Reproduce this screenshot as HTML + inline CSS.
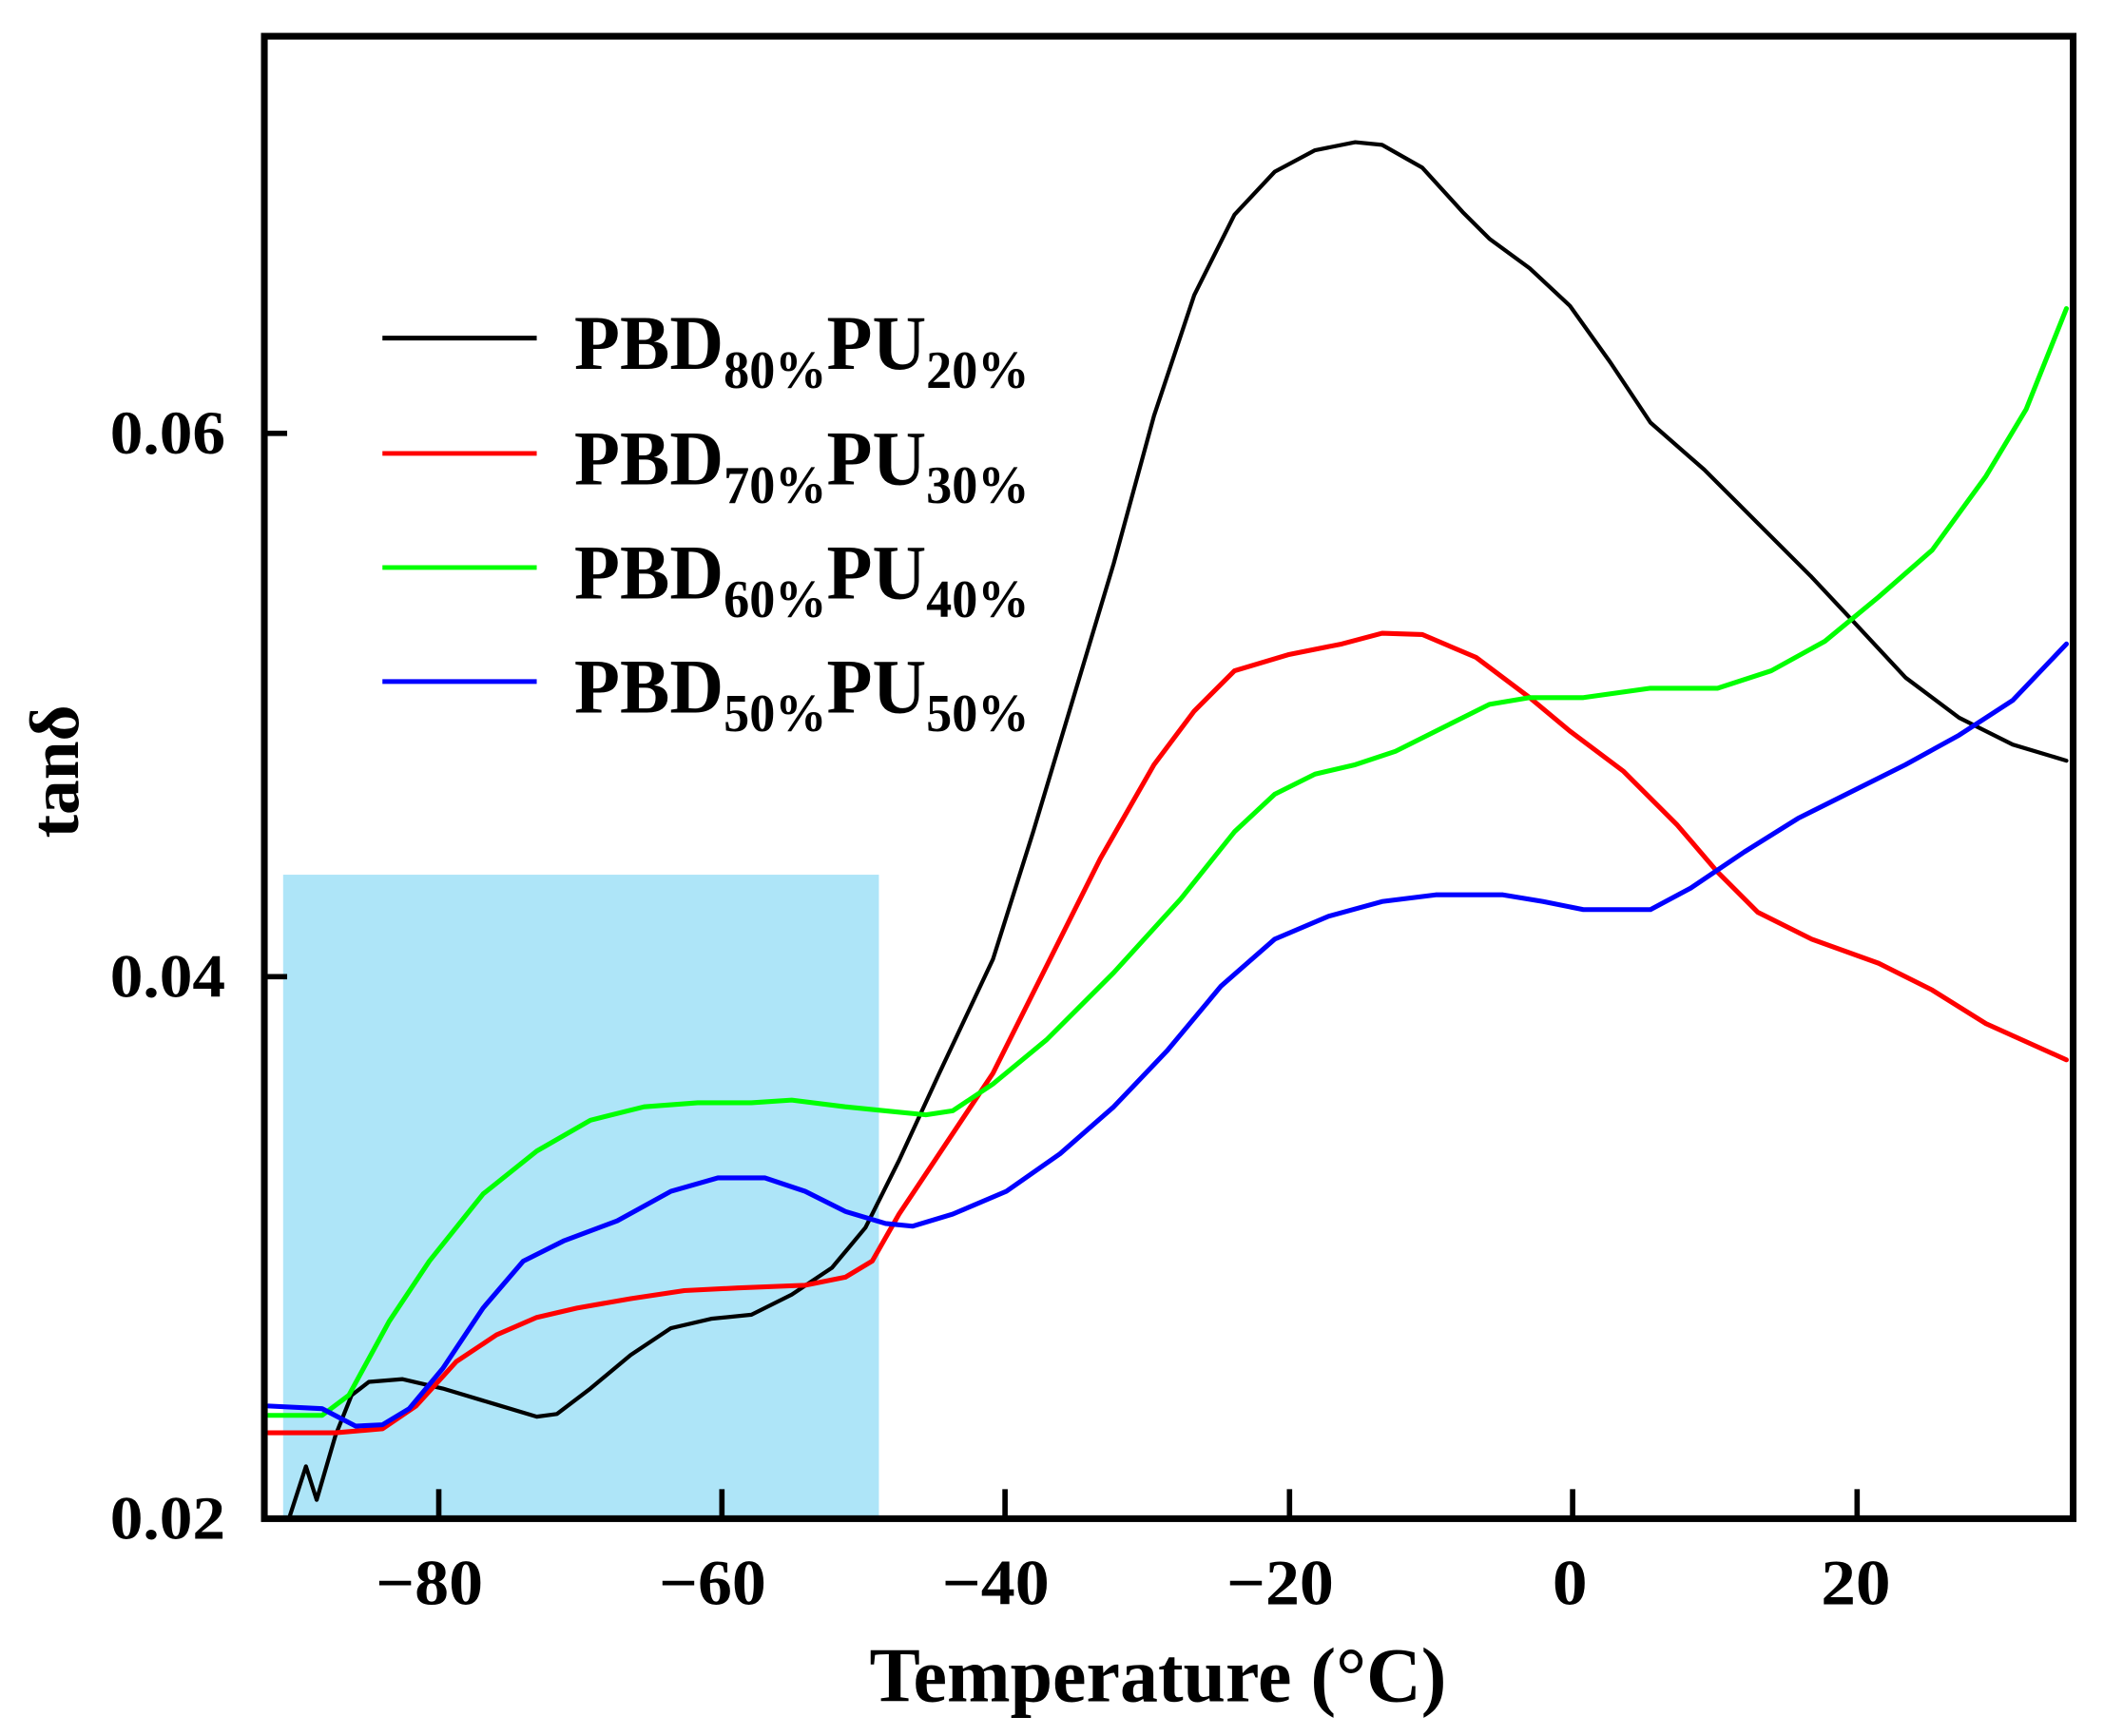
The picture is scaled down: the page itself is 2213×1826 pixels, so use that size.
<!DOCTYPE html>
<html><head><meta charset="utf-8"><style>html,body{margin:0;padding:0;background:#fff}svg{display:block}text{font-family:"Liberation Serif",serif;font-weight:bold}</style></head><body>
<svg width="2213" height="1826" viewBox="0 0 1568 1294" preserveAspectRatio="none" xmlns="http://www.w3.org/2000/svg">
<rect x="211" y="652" width="444" height="478" fill="#aee5f8"/>
<g fill="none" stroke-width="3.6" stroke-linejoin="round" stroke-linecap="round">
<polyline stroke="#000" stroke-width="3" points="216,1130 228,1093 236,1118 250,1070 262,1040 275,1030 300,1028 330,1035 370,1047 400,1056 415,1054 440,1035 470,1010 500,990 530,983 560,980 590,965 620,945 645,915 670,865 700,800 740,715 770,620 800,520 830,420 860,310 890,220 920,160 950,128 980,112 1010,106 1030,108 1060,125 1090,158 1110,178 1140,200 1170,228 1200,270 1230,315 1270,350 1310,390 1350,430 1380,462 1420,505 1460,535 1500,555 1540,567"/>
<polyline stroke="#f00" points="200,1068 250,1068 285,1065 310,1048 340,1015 370,995 400,982 430,975 470,968 510,962 550,960 600,958 630,952 650,940 670,905 700,860 740,800 780,720 820,640 860,570 890,530 920,500 960,488 1000,480 1030,472 1060,473 1100,490 1140,520 1170,545 1210,575 1250,615 1280,650 1310,680 1350,700 1400,718 1440,738 1480,763 1540,790"/>
<polyline stroke="#0f0" points="200,1055 240,1055 260,1040 290,985 320,940 360,890 400,858 440,835 480,825 520,822 560,822 590,820 630,825 660,828 690,831 710,828 740,808 780,775 830,725 880,670 920,620 950,592 980,577 1010,570 1040,560 1080,540 1110,525 1140,520 1180,520 1230,513 1280,513 1320,500 1360,478 1400,445 1440,410 1480,355 1510,305 1540,230"/>
<polyline stroke="#00f" points="200,1048 240,1050 265,1063 285,1062 305,1050 330,1020 360,975 390,940 420,925 460,910 500,888 535,878 570,878 600,888 630,903 660,912 680,914 710,905 750,888 790,860 830,825 870,783 910,735 950,700 990,683 1030,672 1070,667 1120,667 1150,672 1180,678 1230,678 1260,662 1300,635 1340,610 1380,590 1420,570 1460,548 1500,522 1540,480"/>
</g>
<rect x="197" y="27" width="1348" height="1105" fill="none" stroke="#000" stroke-width="5"/>
<g stroke="#000" stroke-width="4">
<line x1="199" y1="323" x2="214" y2="323"/><line x1="199" y1="728" x2="214" y2="728"/>
<line x1="327" y1="1130" x2="327" y2="1110"/><line x1="538" y1="1130" x2="538" y2="1110"/><line x1="749" y1="1130" x2="749" y2="1110"/><line x1="961" y1="1130" x2="961" y2="1110"/><line x1="1172" y1="1130" x2="1172" y2="1110"/><line x1="1384" y1="1130" x2="1384" y2="1110"/>
</g>
<g font-size="46">
<text x="82" y="338" textLength="86" lengthAdjust="spacingAndGlyphs">0.06</text>
<text x="82" y="743" textLength="86" lengthAdjust="spacingAndGlyphs">0.04</text>
<text x="82" y="1147" textLength="86" lengthAdjust="spacingAndGlyphs">0.02</text>
</g>
<g font-size="48">
<text x="280" y="1196" textLength="80" lengthAdjust="spacingAndGlyphs">−80</text>
<text x="491" y="1196" textLength="80" lengthAdjust="spacingAndGlyphs">−60</text>
<text x="702" y="1196" textLength="80" lengthAdjust="spacingAndGlyphs">−40</text>
<text x="914" y="1196" textLength="80" lengthAdjust="spacingAndGlyphs">−20</text>
<text x="1157" y="1196" textLength="26" lengthAdjust="spacingAndGlyphs">0</text>
<text x="1357" y="1196" textLength="52" lengthAdjust="spacingAndGlyphs">20</text>
</g>
<text x="648" y="1268" font-size="58" textLength="430" lengthAdjust="spacingAndGlyphs">Temperature (°C)</text>
<text transform="translate(58,575) rotate(-90)" font-size="52" text-anchor="middle">tanδ</text>
<g stroke-width="3.5">
<line x1="285" y1="252" x2="400" y2="252" stroke="#000"/>
<line x1="285" y1="338" x2="400" y2="338" stroke="#f00"/>
<line x1="285" y1="423" x2="400" y2="423" stroke="#0f0"/>
<line x1="285" y1="508" x2="400" y2="508" stroke="#00f"/>
</g>
<g font-size="58">
<text x="428" y="275" textLength="339" lengthAdjust="spacingAndGlyphs">PBD<tspan font-size="40" dy="14">80%</tspan><tspan dy="-14">PU</tspan><tspan font-size="40" dy="14">20%</tspan></text>
<text x="428" y="361" textLength="339" lengthAdjust="spacingAndGlyphs">PBD<tspan font-size="40" dy="14">70%</tspan><tspan dy="-14">PU</tspan><tspan font-size="40" dy="14">30%</tspan></text>
<text x="428" y="446" textLength="339" lengthAdjust="spacingAndGlyphs">PBD<tspan font-size="40" dy="14">60%</tspan><tspan dy="-14">PU</tspan><tspan font-size="40" dy="14">40%</tspan></text>
<text x="428" y="531" textLength="339" lengthAdjust="spacingAndGlyphs">PBD<tspan font-size="40" dy="14">50%</tspan><tspan dy="-14">PU</tspan><tspan font-size="40" dy="14">50%</tspan></text>
</g>
</svg>
</body></html>
